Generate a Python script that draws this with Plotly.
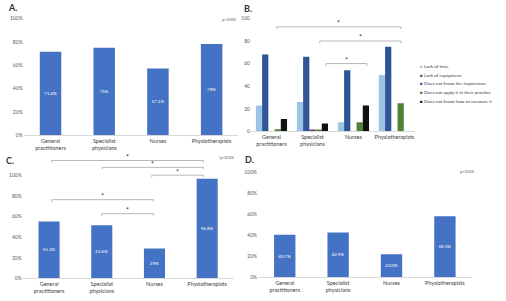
import plotly.graph_objects as go

categories = ["General<br>practitioners", "Specialist<br>physicians", "Nurses", "Physiotherapists"]
y_ticks = [0, 20, 40, 60, 80, 100]

# Panel A
a_values = [71.4, 75, 57.1, 78]
a_labels = ["71.4%", "75%", "57.1%", "78%"]

# Panel B
b_series = ["Lack of time", "Lack of equipment", "Does not know the importance",
            "Does not apply it in their practice", "Does not know how to measure it"]
b_time = [23, 26, 8, 50]
b_equipment = [68, 66, 54, 75]
b_importance = [0, 1, 0, 0]
b_notapply = [2, 1, 8, 25]
b_measure = [11, 7, 23, 0]
b_colors = ["#9dc3e6", "#2f5597", "#7030a0", "#548235", "#111111"]

# Panel C
c_values = [55.3, 51.6, 29, 96.8]
c_labels = ["55.3%", "51.6%", "29%", "96.8%"]

# Panel D
d_values = [40.7, 42.9, 22.0, 58.3]
d_labels = ["40.7%", "42.9%", "22.0%", "58.3%"]

# significance brackets: (x_from, x_to, y)
b_brackets = [(0.13, 3.16, 92.5), (1.18, 3.16, 80), (1.33, 2.33, 60)]
c_brackets = [(0.05, 2.93, 114.6), (1.01, 2.93, 107.9), (1.95, 2.93, 100.3),
              (0.05, 1.98, 76.5), (1.0, 1.98, 62.9)]

BLUE = "#4472c4"
FONT = "Lato"
TICK = dict(family=FONT, size=5, color="#595959")
CAT = dict(family=FONT, size=5.5, color="#404040")

fig = go.Figure()

idx = [0, 1, 2, 3]

def main_bar(vals, labels, xa, ya):
    fig.add_trace(go.Bar(
        x=idx, y=vals, text=labels, textposition="inside", insidetextanchor="middle",
        textfont=dict(family=FONT, size=4.5, color="white"),
        marker=dict(color=BLUE, line=dict(width=0)), width=0.4,
        xaxis=xa, yaxis=ya, showlegend=False, cliponaxis=False))

main_bar(a_values, a_labels, "x", "y")
for name, vals, col in zip(b_series, [b_time, b_equipment, b_importance, b_notapply, b_measure], b_colors):
    fig.add_trace(go.Bar(x=idx, y=vals, name=name, marker=dict(color=col, line=dict(width=0)),
                         xaxis="x2", yaxis="y2", showlegend=False))
main_bar(c_values, c_labels, "x3", "y3")
main_bar(d_values, d_labels, "x4", "y4")

def xax(domain, anchor):
    return dict(domain=domain, anchor=anchor, range=[-0.5, 3.5], tickvals=idx, ticktext=categories,
                tickfont=CAT, showgrid=False, zeroline=False, showline=True, linecolor="#d9d9d9",
                linewidth=1, ticks="", fixedrange=True)

def yax(domain, anchor, rng, suffix):
    return dict(domain=domain, anchor=anchor, range=rng, tickmode="array", tickvals=y_ticks,
                ticktext=[f"{v}{suffix}" for v in y_ticks], tickfont=TICK, showgrid=False,
                zeroline=False, showline=False, ticks="", fixedrange=True)

fig.update_layout(
    width=506, height=301, margin=dict(l=0, r=0, t=0, b=0),
    paper_bgcolor="white", plot_bgcolor="white",
    barmode="group", bargap=0.24, bargroupgap=0,
    xaxis=xax([0.0468, 0.4713], "y"),
    yaxis=yax([0.5515, 0.9478], "x", [0, 100], "%"),
    xaxis2=xax([0.496, 0.820], "y2"),
    yaxis2=yax([0.5648, 0.9478], "x2", [0, 100], ""),
    xaxis3=xax([0.0449, 0.4615], "y3"),
    yaxis3=yax([0.0664, 0.485], "x3", [0, 120], "%"),
    xaxis4=xax([0.510, 0.932], "y4"),
    yaxis4=yax([0.0698, 0.4252], "x4", [0, 100], "%"),
    font=dict(family=FONT),
)

shapes = []
annotations = []
BR = "#a6a6a6"

def add_brackets(brs, xr, yr, tick, star_off):
    for x0, x1, y in brs:
        shapes.append(dict(type="path", xref=xr, yref=yr,
                           path=f"M {x0},{y - tick} L {x0},{y} L {x1},{y} L {x1},{y - tick}",
                           line=dict(color=BR, width=0.8)))
        annotations.append(dict(x=(x0 + x1) / 2, y=y + star_off, xref=xr, yref=yr, text="*",
                                showarrow=False, font=dict(family=FONT, size=7, color="#333"),
                                yanchor="middle"))

add_brackets(b_brackets, "x2", "y2", 2, 3.5)
add_brackets(c_brackets, "x3", "y3", 2, 3.5)

def paper_text(x, y, text, size, bold=False, anchor="left", color="#333"):
    annotations.append(dict(x=x / 506, y=1 - y / 301, xref="paper", yref="paper",
                            text=f"<b>{text}</b>" if bold else text, showarrow=False,
                            xanchor=anchor, yanchor="middle",
                            font=dict(family=FONT, size=size, color=color)))

paper_text(6, 5, "A.", 9, bold=True)
paper_text(242, 6, "B.", 9, bold=True)
paper_text(4, 161, "C.", 9, bold=True)
paper_text(243, 160, "D.", 9, bold=True)
paper_text(238, 17, "p<0.05", 4.5, anchor="right", color="#555")
paper_text(236, 158, "*p<0.05", 4.5, anchor="right", color="#555")
paper_text(476, 172, "p<0.05", 4.5, anchor="right", color="#555")

leg_y = [64.7, 73.3, 82, 91, 99.7]
for name, col, y in zip(b_series, b_colors, leg_y):
    paper_text(418, y, f"<span style='color:{col}'>■</span> {name}", 4.6, color="#404040")

fig.update_layout(shapes=shapes, annotations=annotations)
fig.write_html("out.html", config={"displayModeBar": False},
               post_script="document.body.style.margin='0';document.body.style.overflow='hidden';")
